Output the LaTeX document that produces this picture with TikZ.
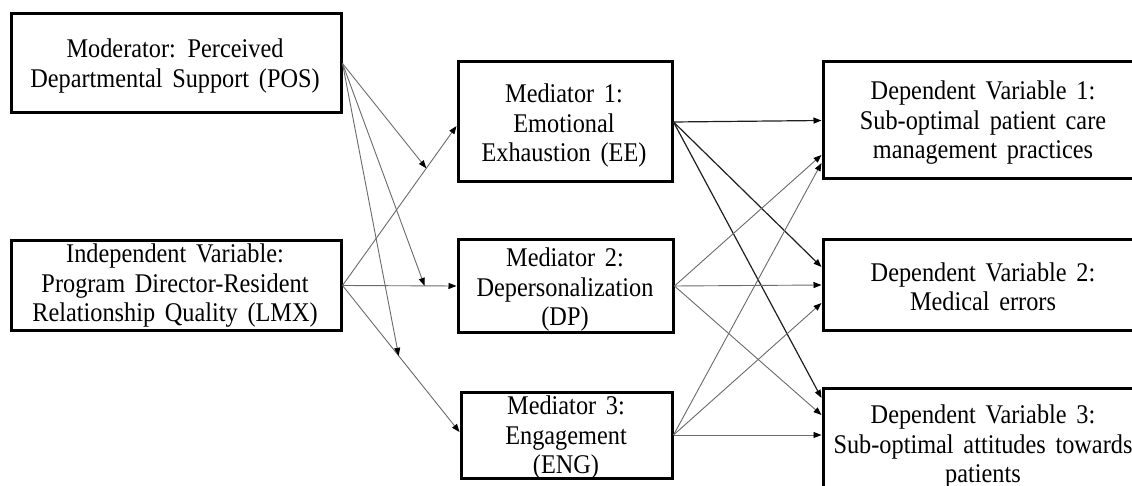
\documentclass[tikz,border=0pt]{standalone}
\usepackage{fontspec}
\setmainfont{Liberation Serif}[WordSpace=1.6, FakeStretch=0.9]
\usetikzlibrary{arrows.meta,calc}

\begin{document}
\begin{tikzpicture}[x=1pt,y=-1pt,
  box/.style={draw=black, line width=3pt, rectangle, inner sep=0pt, fill=white},
  txt/.style={align=center, inner sep=0pt, font=\fontsize{27}{29.5}\selectfont},
  tip/.style={-{Triangle[length=8pt,width=6pt,color=black]}},
  thin/.style={tip, draw=black!58, line width=0.9pt},
  dark/.style={tip, draw=black!88, line width=1.2pt}]

\useasboundingbox (0,0) rectangle (1132,486);
\clip (0,0) rectangle (1132,486);
\fill[white] (0,0) rectangle (1132,486);

% boxes
\node[box, minimum width=330pt, minimum height=99pt]  (pos) at (176,63.5)  {};
\node[box, minimum width=330pt, minimum height=89pt]  (lmx) at (176,285.5) {};
\node[box, minimum width=214pt, minimum height=120pt] (ee)  at (565,122)   {};
\node[box, minimum width=215pt, minimum height=92pt]  (dp)  at (565.5,286) {};
\node[box, minimum width=211pt, minimum height=86pt]  (eng) at (566.5,435) {};
\node[box, minimum width=320pt, minimum height=117pt] (dv1) at (983,120.5) {};
\node[box, minimum width=320pt, minimum height=90pt]  (dv2) at (983,285)   {};
\node[box, minimum width=320pt, minimum height=112pt] (dv3) at (983,444)   {};

% labels
\node[txt] (pos-t) at (175,66)  {Moderator: Perceived\\Departmental Support (POS)};
\node[txt] (lmx-t) at (175,286) {Independent Variable:\\Program Director-Resident\\Relationship Quality (LMX)};
\node[txt] (ee-t)  at (564,126) {Mediator 1:\\Emotional\\Exhaustion (EE)};
\node[txt] (dp-t)  at (565,290) {Mediator 2:\\Depersonalization\\(DP)};
\node[txt] (eng-t) at (566,438) {Mediator 3:\\Engagement\\(ENG)};
\node[txt] (dv1-t) at (983,123) {Dependent Variable 1:\\Sub-optimal patient care\\management practices};
\node[txt] (dv2-t) at (983,287) {Dependent Variable 2:\\Medical errors};
\node[txt] (dv3-t) at (983,447) {Dependent Variable 3:\\Sub-optimal attitudes towards\\patients};

% end points on the mediator and outcome boxes
\coordinate (ee-in)  at ([yshift=-4pt]ee.west);
\coordinate (eng-in) at ([yshift=3pt]eng.west);
\coordinate (d1a) at (dv1.west);
\coordinate (d1b) at ([yshift=-34.5pt]dv1.west);
\coordinate (d1c) at ([yshift=-42.5pt]dv1.west);
\coordinate (d2a) at ([yshift=18pt]dv2.west);
\coordinate (d2b) at (dv2.west);
\coordinate (d2c) at ([yshift=-18pt]dv2.west);
\coordinate (d3a) at ([yshift=46pt]dv3.west);
\coordinate (d3b) at ([yshift=29pt]dv3.west);
\coordinate (d3c) at ([yshift=9pt]dv3.west);

% moderation targets on the LMX paths
\coordinate (m1) at ($(lmx.east)!0.735!(ee-in)$);
\coordinate (m2) at ($(lmx.east)!0.72!(dp.west)$);
\coordinate (m3) at ($(lmx.east)!0.48!(eng-in)$);

% independent variable to mediators
\draw[thin] (lmx.east) -- (ee-in);
\draw[thin] (lmx.east) -- (dp.west);
\draw[thin] (lmx.east) -- (eng-in);

% moderator arrows
\draw[thin] (pos.east) -- (m1);
\draw[thin] (pos.east) -- (m2);
\draw[thin] (pos.east) -- (m3);

% mediators to outcomes
\draw[dark] (ee.east) -- (d1a);
\draw[dark] (ee.east) -- (d2a);
\draw[dark] (ee.east) -- (d3a);
\draw[thin] (dp.east) -- (d1b);
\draw[thin] (dp.east) -- (d2b);
\draw[thin] (dp.east) -- (d3b);
\draw[thin] (eng.east) -- (d1c);
\draw[thin] (eng.east) -- (d2c);
\draw[thin] (eng.east) -- (d3c);
\end{tikzpicture}
\end{document}
